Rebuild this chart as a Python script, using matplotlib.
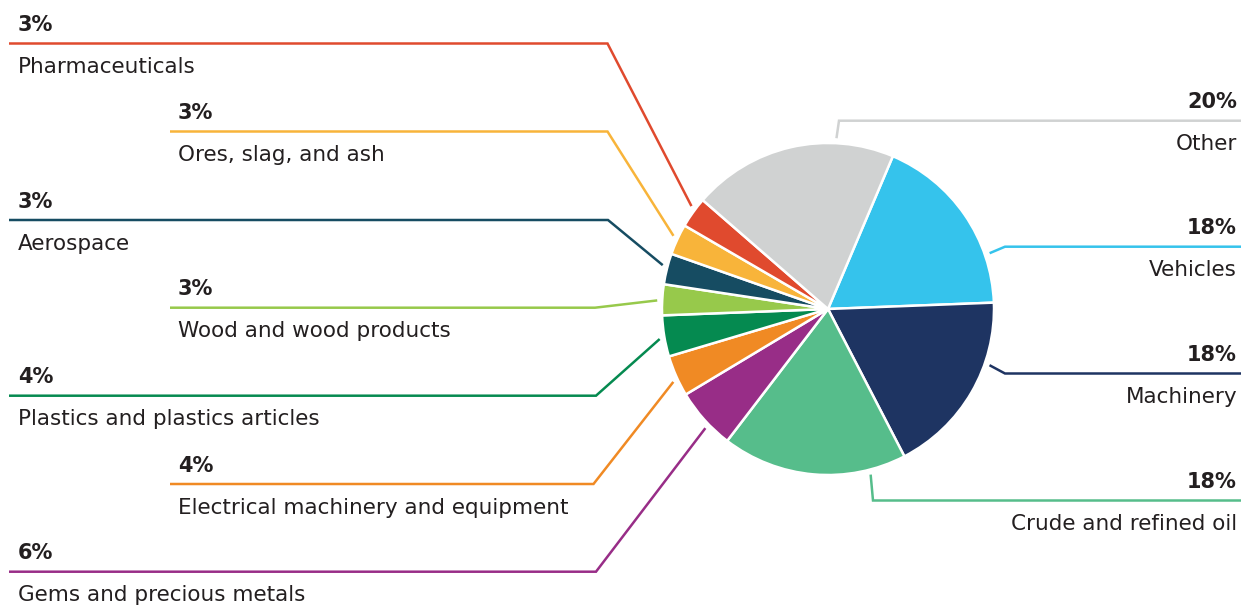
import matplotlib.pyplot as plt
import numpy as np

# DATA
categories = [
    "Vehicles",
    "Machinery",
    "Crude and refined oil",
    "Gems and precious metals",
    "Electrical machinery and equipment",
    "Plastics and plastics articles",
    "Wood and wood products",
    "Aerospace",
    "Ores, slag, and ash",
    "Pharmaceuticals",
    "Other",
]
shares = [18, 18, 18, 6, 4, 4, 3, 3, 3, 3, 20]
colors = [
    "#35c3ec",
    "#1e3462",
    "#56bd8b",
    "#982d87",
    "#f08a24",
    "#058a50",
    "#97c94b",
    "#164c62",
    "#f8b43a",
    "#e04a2e",
    "#d0d2d2",
]

# LAYOUT (pixels from top-left of the canvas)
W, H = 1241, 606
pie_cx, pie_cy, pie_r = 828, 309, 166

# where along each wedge the leader line leaves the pie (0 = low angle edge)
attach_frac = [0.26, 0.67, 0.8, 0.61, 0.6, 0.55, 0.53, 0.42, 0.45, 0.37, 0.28]
# horizontal rule height, bend x, rule end x, text x, side
label_rows = [
    (246.7, 1005, W, 1237, "right"),
    (373.5, 1005, W, 1237, "right"),
    (500.5, 873, W, 1237, "right"),
    (571.7, 596, 9, 18, "left"),
    (484.0, 593.5, 170, 178, "left"),
    (395.7, 596, 9, 18, "left"),
    (307.7, 595, 170, 178, "left"),
    (220.0, 608, 9, 18, "left"),
    (131.5, 607.5, 170, 178, "left"),
    (43.5, 607.5, 9, 18, "left"),
    (120.7, 839, W, 1237, "right"),
]

text_color = "#231f20"
plt.rcParams["font.family"] = ["DejaVu Sans"]

fig = plt.figure(figsize=(W / 100, H / 100), dpi=100)
ax = fig.add_axes([0, 0, 1, 1])

wedges, _ = ax.pie(
    shares,
    colors=colors,
    startangle=67,
    counterclock=False,
    center=(pie_cx, H - pie_cy),
    radius=pie_r,
    wedgeprops=dict(edgecolor="white", linewidth=1.8),
)

ax.set_xlim(0, W)
ax.set_ylim(0, H)
ax.set_aspect("equal")
ax.axis("off")

# LEADER LINES AND LABELS
for wedge, frac, row, name, value, color in zip(
    wedges, attach_frac, label_rows, categories, shares, colors
):
    line_y, bend_x, end_x, text_x, side = row
    ang = np.deg2rad(wedge.theta1 + frac * (wedge.theta2 - wedge.theta1))
    ax_x = pie_cx + (pie_r + 5) * np.cos(ang)
    ax_y = (H - pie_cy) + (pie_r + 5) * np.sin(ang)

    ax.plot(
        [ax_x, bend_x, end_x],
        [ax_y, H - line_y, H - line_y],
        color=color,
        linewidth=1.8,
        solid_joinstyle="miter",
        solid_capstyle="butt",
    )

    ha = "left" if side == "left" else "right"
    ax.text(
        text_x, H - (line_y - 12.5), f"{value}%",
        ha=ha, va="baseline", fontsize=15, fontweight="bold", color=text_color,
    )
    ax.text(
        text_x, H - (line_y + 29.5), name,
        ha=ha, va="baseline", fontsize=15.5, color=text_color,
    )

fig.savefig("out.png", dpi=100)
plt.close()
